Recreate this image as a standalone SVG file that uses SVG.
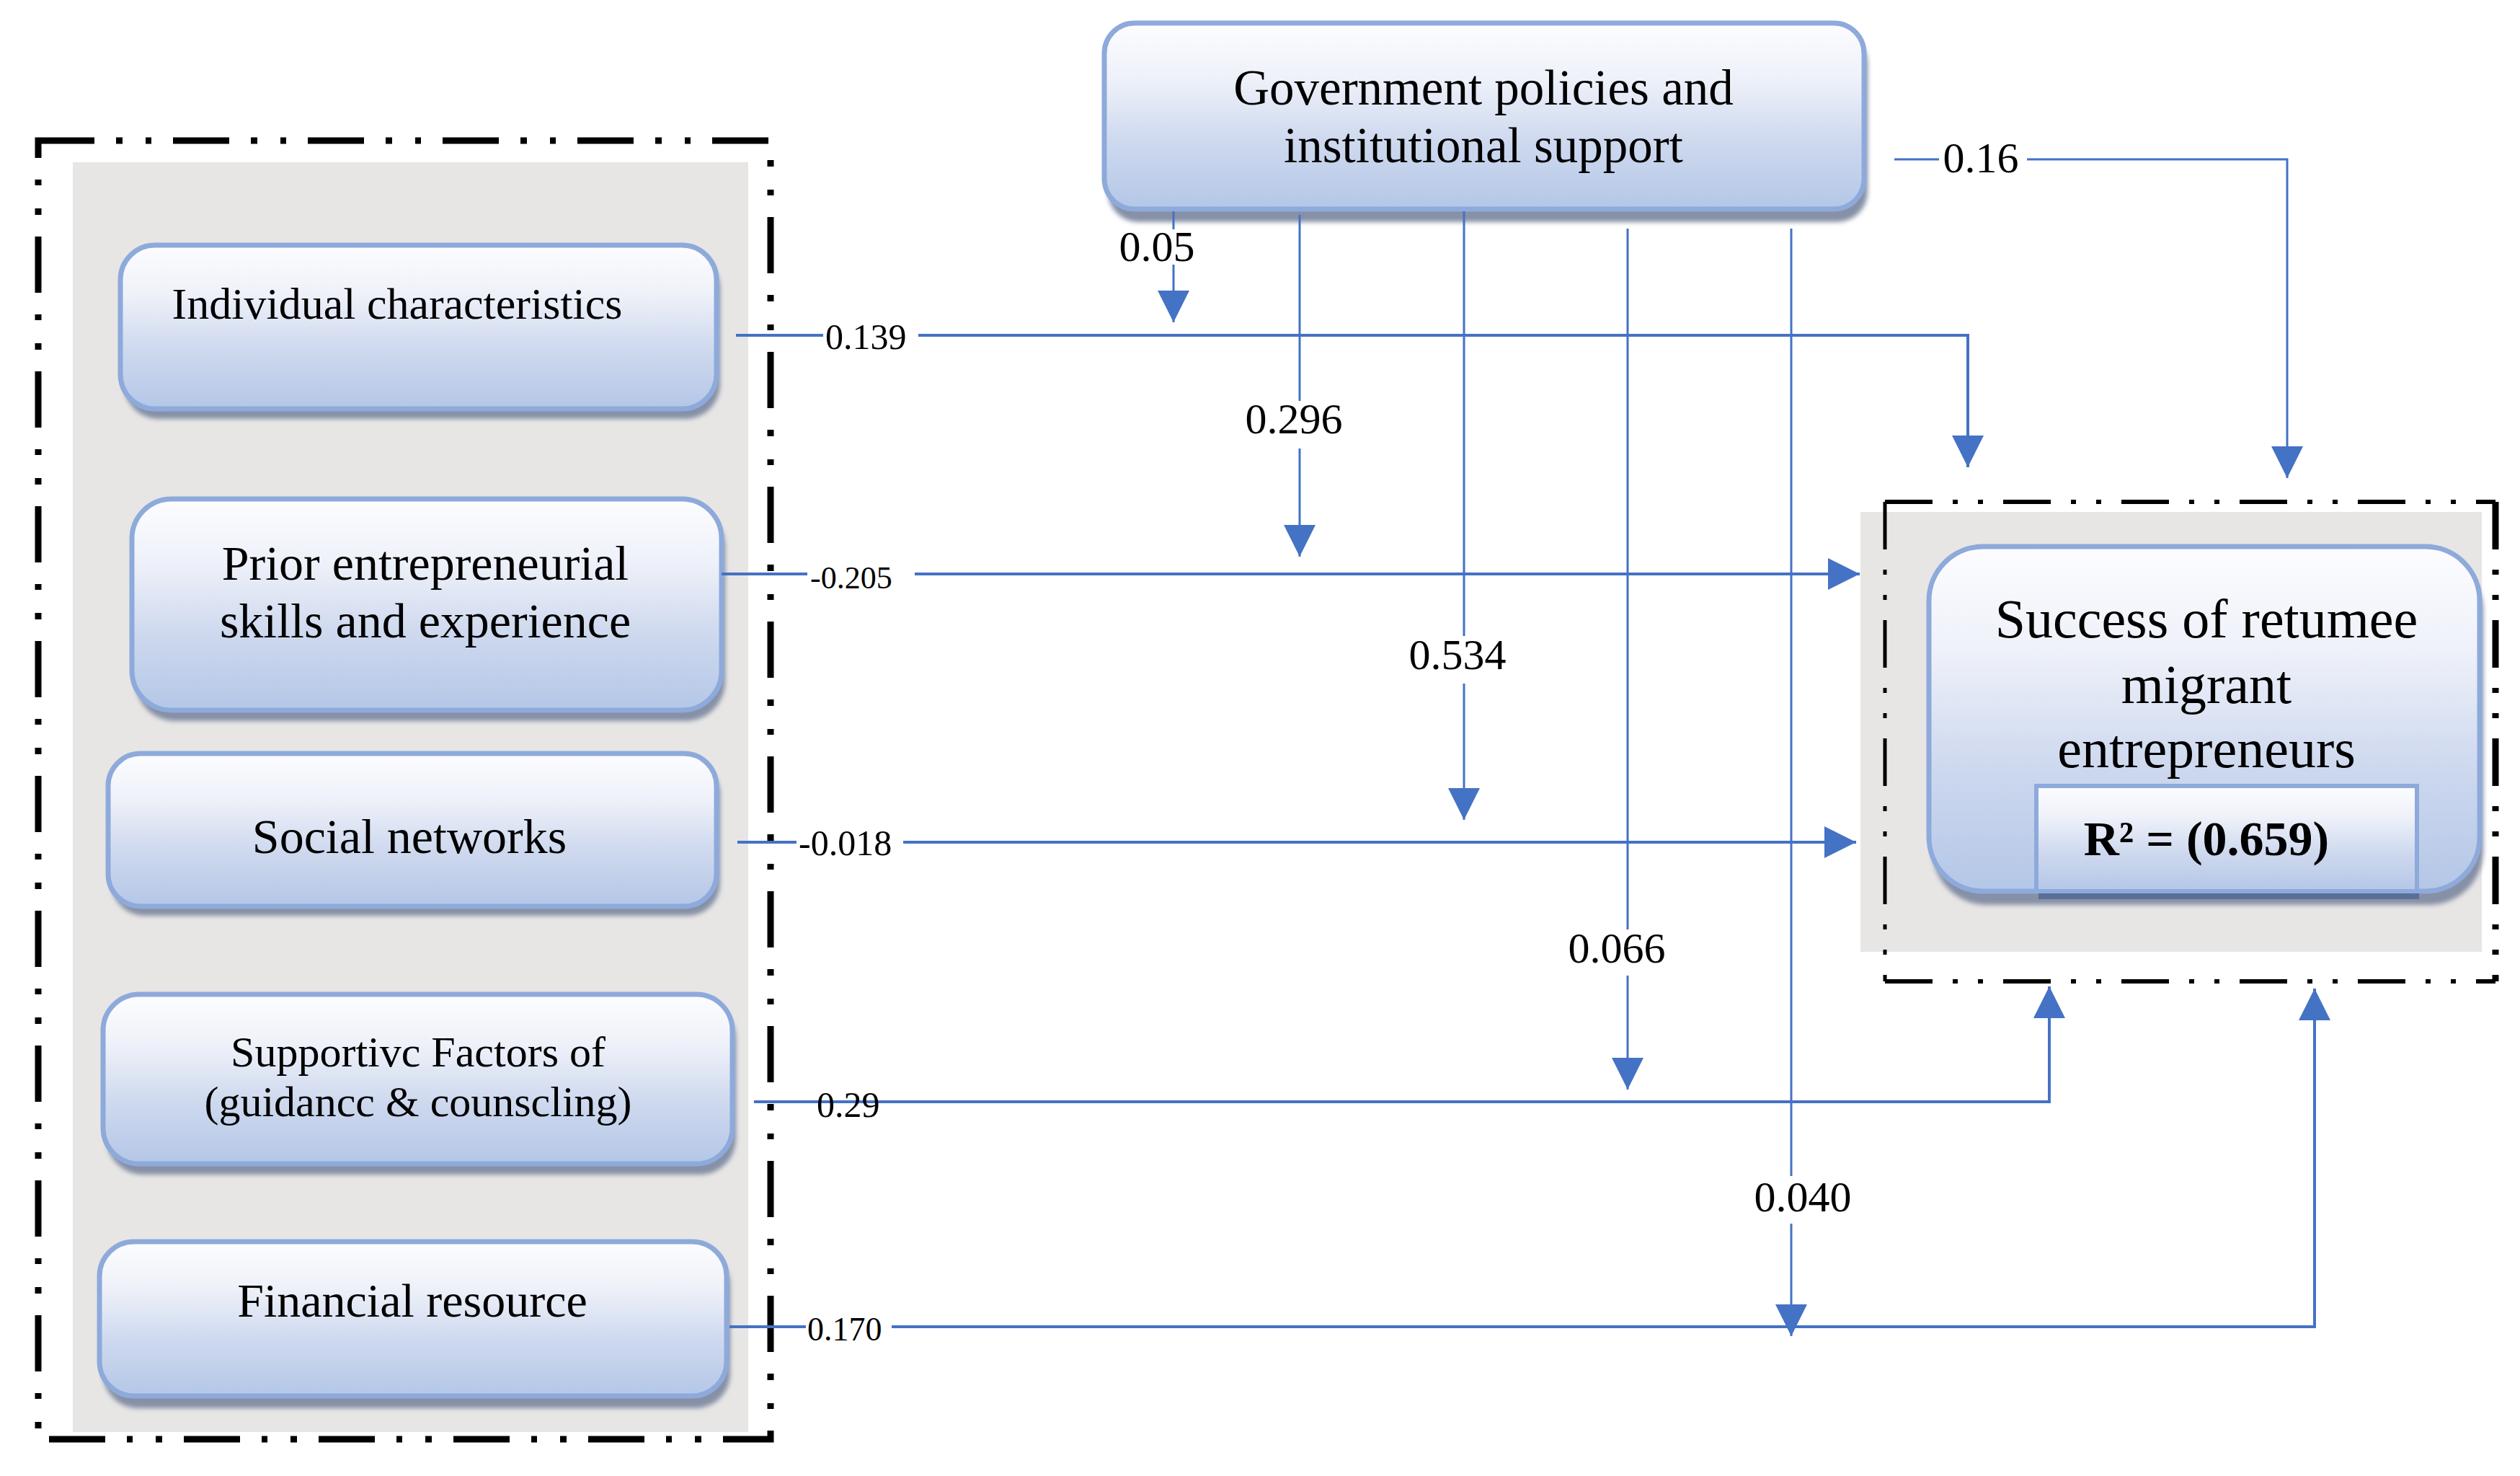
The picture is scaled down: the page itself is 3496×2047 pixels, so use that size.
<svg xmlns="http://www.w3.org/2000/svg" width="3496" height="2047" viewBox="0 0 3496 2047">
<defs>
<linearGradient id="nodeGrad" x1="0" y1="0" x2="0" y2="1">
<stop offset="0" stop-color="#fdfdff"/>
<stop offset="0.3" stop-color="#eef1f9"/>
<stop offset="0.65" stop-color="#cdd8ee"/>
<stop offset="1" stop-color="#b4c7e7"/>
</linearGradient>
<filter id="blur" x="-5%" y="-10%" width="110%" height="130%">
<feGaussianBlur stdDeviation="3"/>
</filter>
<marker id="arrow" viewBox="0 0 10 10" refX="10" refY="5" markerWidth="44" markerHeight="44" markerUnits="userSpaceOnUse" orient="auto">
<path d="M0,0 L10,5 L0,10 z" fill="#4472c4"/>
</marker>
<style>
.bg{fill:#e7e6e5}
.frame{fill:none;stroke:#000;stroke-width:9;stroke-dasharray:78 30 9 32 8 30}
.frame2{fill:none;stroke:#000;stroke-width:6;stroke-dasharray:66 28 7 28 7 28}
.node{fill:url(#nodeGrad);stroke:#8eaadb;stroke-width:7}
.shadow{fill:#8690a6;filter:url(#blur)}
.t{font-family:"Liberation Serif","Times New Roman",serif;fill:#000;text-anchor:middle}
.lbl{font-family:"Liberation Serif","Times New Roman",serif;fill:#000}
.h{fill:none;stroke:#4472c4;stroke-width:4}
.v{fill:none;stroke:#4472c4;stroke-width:3}
</style>
</defs>
<rect width="3496" height="2047" fill="#fff"/>

<g id="left-group">
<rect class="bg" x="101" y="225" width="937" height="1761"/>
<rect class="frame" x="53" y="195" width="1016" height="1801"/>
</g>

<g id="success-group">
<rect class="bg" x="2581" y="710" width="862" height="610"/>
<line class="frame2" x1="2615" y1="696" x2="3462" y2="696"/>
<line class="frame2" x1="2615" y1="1361" x2="3462" y2="1361"/>
<line class="frame2" x1="2615" y1="696" x2="2615" y2="1361" style="stroke-width:5"/>
<line class="frame2" x1="3462" y1="696" x2="3462" y2="1361" style="stroke-width:9"/>
</g>

<g id="node-individual">
<rect class="shadow" x="172" y="352" width="827" height="229" rx="48"/>
<rect class="node" x="167" y="340" width="827" height="227" rx="48"/>
<text class="t" x="551" y="442" font-size="62">Individual characteristics</text>
</g>

<g id="node-prior">
<rect class="shadow" x="188" y="704" width="818" height="296" rx="55"/>
<rect class="node" x="183" y="692" width="818" height="293" rx="55"/>
<text class="t" x="590" y="804" font-size="68">Prior entrepreneurial</text>
<text class="t" x="590" y="884" font-size="68">skills and experience</text>
</g>

<g id="node-social">
<rect class="shadow" x="155" y="1057" width="844" height="213" rx="45"/>
<rect class="node" x="150" y="1045" width="844" height="212" rx="45"/>
<text class="t" x="568" y="1183" font-size="68">Social networks</text>
</g>

<g id="node-supportive">
<rect class="shadow" x="148" y="1391" width="873" height="238" rx="50"/>
<rect class="node" x="143" y="1379" width="873" height="235" rx="50"/>
<text class="t" x="580" y="1479" font-size="60">Supportivc Factors of</text>
<text class="t" x="580" y="1548" font-size="60">(guidancc &amp; counscling)</text>
</g>

<g id="node-financial">
<rect class="shadow" x="143" y="1734" width="870" height="219" rx="48"/>
<rect class="node" x="138" y="1722" width="870" height="214" rx="48"/>
<text class="t" x="572" y="1826" font-size="66">Financial resource</text>
</g>

<g id="node-government">
<rect class="shadow" x="1537" y="46" width="1054" height="262" rx="42"/>
<rect class="node" x="1532" y="32" width="1054" height="258" rx="42"/>
<text class="t" x="2058" y="145" font-size="69">Government policies and</text>
<text class="t" x="2058" y="225" font-size="69">institutional support</text>
</g>

<g id="node-success">
<rect class="shadow" x="2681" y="772" width="764" height="483" rx="75"/>
<rect class="node" x="2676" y="758" width="764" height="478" rx="75"/>
<text class="t" x="3061" y="884" font-size="76">Success of retumee</text>
<text class="t" x="3061" y="975" font-size="76">migrant</text>
<text class="t" x="3061" y="1064" font-size="76">entrepreneurs</text>
<rect x="2828" y="1236" width="528" height="11" fill="#5a6e98"/>
<rect class="node" x="2825" y="1090" width="528" height="146" style="stroke-width:6"/>
<text class="t" x="3061" y="1186" font-size="68" font-weight="bold">R² = (0.659)</text>
</g>

<g id="connectors">
<!-- government moderating paths -->
<path class="v" d="M1628,293 V318"/>
<path class="v" d="M1628,367 V447" marker-end="url(#arrow)"/>
<path class="v" d="M1803,298 V556"/>
<path class="v" d="M1803,622 V772" marker-end="url(#arrow)"/>
<path class="v" d="M2031,293 V882"/>
<path class="v" d="M2031,948 V1137" marker-end="url(#arrow)"/>
<path class="v" d="M2258,317 V1289"/>
<path class="v" d="M2258,1353 V1511" marker-end="url(#arrow)"/>
<path class="v" d="M2485,317 V1631"/>
<path class="v" d="M2485,1697 V1853" marker-end="url(#arrow)"/>
<path class="v" d="M2628,221 H2690"/>
<path class="v" d="M2812,221 H3173 V663" marker-end="url(#arrow)"/>
<!-- direct paths -->
<path class="h" d="M1021,465 H1142"/>
<path class="h" d="M1274,465 H2730 V648" marker-end="url(#arrow)"/>
<path class="h" d="M1001,796 H1120"/>
<path class="h" d="M1269,796 H2580" marker-end="url(#arrow)"/>
<path class="h" d="M1023,1168 H1105"/>
<path class="h" d="M1253,1168 H2575" marker-end="url(#arrow)"/>
<path class="h" d="M1046,1528 H2843 V1368" marker-end="url(#arrow)"/>
<path class="h" d="M1012,1840 H1118"/>
<path class="h" d="M1237,1840 H3211 V1371" marker-end="url(#arrow)"/>
<!-- labels -->
<text class="lbl" x="1605" y="362" font-size="60" text-anchor="middle">0.05</text>
<text class="lbl" x="1795" y="601" font-size="60" text-anchor="middle">0.296</text>
<text class="lbl" x="2022" y="928" font-size="60" text-anchor="middle">0.534</text>
<text class="lbl" x="2243" y="1335" font-size="60" text-anchor="middle">0.066</text>
<text class="lbl" x="2501" y="1680" font-size="60" text-anchor="middle">0.040</text>
<text class="lbl" x="2748" y="239" font-size="60" text-anchor="middle">0.16</text>
<text class="lbl" x="1145" y="484" font-size="50">0.139</text>
<text class="lbl" x="1124" y="816" font-size="44">-0.205</text>
<text class="lbl" x="1108" y="1186" font-size="50">-0.018</text>
<text class="lbl" x="1133" y="1549" font-size="50">0.29</text>
<text class="lbl" x="1120" y="1859" font-size="46">0.170</text>
</g>
</svg>
